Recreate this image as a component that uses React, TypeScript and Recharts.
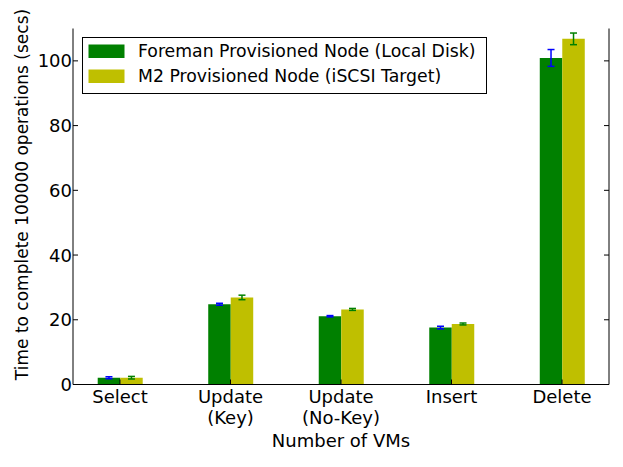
import { BarChart, Bar, XAxis, YAxis, ErrorBar, Legend } from 'recharts';

const categories = ['Select', 'Update\n(Key)', 'Update\n(No-Key)', 'Insert', 'Delete'];
const foremanTimes = [2.1, 24.8, 21.1, 17.6, 100.9];
const foremanErrors = [0.3, 0.3, 0.2, 0.4, 2.6];
const m2Times = [2.1, 26.9, 23.2, 18.7, 106.8];
const m2Errors = [0.4, 0.7, 0.3, 0.3, 1.8];
const yTicks = [0, 20, 40, 60, 80, 100];
const xTicks = [0, 1, 2, 3, 4];

const data = categories.map((name, i) => ({
  x: i,
  name,
  foreman: foremanTimes[i],
  foremanErr: foremanErrors[i],
  m2: m2Times[i],
  m2Err: m2Errors[i],
}));

const FONT = '"DejaVu Sans", Verdana, sans-serif';
const FS = 18;

function LeftTick({ x, y, payload }: any) {
  return (
    <g>
      <line x1={x + 1} x2={x + 6} y1={y} y2={y} stroke="#000" />
      <text x={x} y={y} dy="0.36em" textAnchor="end" fontSize={FS} fontFamily={FONT} fill="#000">
        {payload.value}
      </text>
    </g>
  );
}

function RightTick({ x, y }: any) {
  return <line x1={x} x2={x - 5} y1={y} y2={y} stroke="#000" />;
}

function TopTick({ x, y }: any) {
  return <line x1={x} x2={x} y1={y} y2={y + 5} stroke="#000" />;
}

function BottomTick({ x, y, payload }: any) {
  const lines = String(categories[payload.value] ?? '').split('\n');
  return (
    <g>
      <line x1={x} x2={x} y1={y - 6} y2={y - 11} stroke="#000" />
      <text x={x} y={y} textAnchor="middle" fontSize={FS} fontFamily={FONT} fill="#000">
        {lines.map((l, i) => (
          <tspan key={i} x={x} dy={i === 0 ? 12.5 : 21}>
            {l}
          </tspan>
        ))}
      </text>
    </g>
  );
}

function YLabel({ viewBox }: any) {
  const cx = viewBox.x + 28;
  const cy = viewBox.y + viewBox.height / 2 - 12;
  return (
    <text
      x={cx}
      y={cy}
      transform={`rotate(-90 ${cx} ${cy})`}
      textAnchor="middle"
      fontSize={17}
      fontFamily={FONT}
      fill="#000"
    >
      Time to complete 100000 operations (secs)
    </text>
  );
}

function LegendBox({ payload }: any) {
  return (
    <svg width={405} height={57} style={{ display: 'block' }}>
      <rect x={0.5} y={0.5} width={404} height={56} fill="#fff" stroke="#000" />
      {(payload || []).map((p: any, i: number) => (
        <g key={i}>
          <rect x={6.5} y={7.5 + i * 25} width={36} height={13.5} fill={p.color} />
          <text x={56} y={20 + i * 25} fontSize={17.3} fontFamily={FONT} fill="#000">
            {p.value}
          </text>
        </g>
      ))}
    </svg>
  );
}

export default function App() {
  return (
    <div style={{ position: 'absolute', left: 0, top: 0, background: '#fff' }}>
      <BarChart
        width={623}
        height={467}
        data={data}
        margin={{ top: 28.5, right: 0, bottom: 0, left: 0 }}
        barGap={0}
      >
        <XAxis
          xAxisId="b"
          dataKey="x"
          type="number"
          domain={[-0.425, 4.425]}
          ticks={xTicks}
          allowDataOverflow
          height={82.5}
          tickSize={0}
          tickMargin={6}
          tickLine={false}
          axisLine={{ stroke: '#000' }}
          tick={<BottomTick />}
          interval={0}
          label={{ value: 'Number of VMs', position: 'insideBottom', offset: 20.5, fontSize: FS, fontFamily: FONT, fill: '#000' }}
        />
        <XAxis
          xAxisId="t"
          orientation="top"
          dataKey="x"
          type="number"
          domain={[-0.425, 4.425]}
          ticks={xTicks}
          allowDataOverflow
          height={0}
          tickSize={0}
          tickMargin={0}
          tickLine={false}
          axisLine={{ stroke: '#000' }}
          tick={<TopTick />}
          interval={0}
        />
        <YAxis
          yAxisId="l"
          domain={[0, 110]}
          ticks={yTicks}
          allowDataOverflow
          width={73}
          tickSize={0}
          tickMargin={1}
          tickLine={false}
          axisLine={{ stroke: '#000' }}
          tick={<LeftTick />}
          interval={0}
          label={<YLabel />}
        />
        <YAxis
          yAxisId="r"
          orientation="right"
          domain={[0, 110]}
          ticks={yTicks}
          allowDataOverflow
          width={14}
          tickSize={0}
          tickMargin={0}
          tickLine={false}
          axisLine={{ stroke: '#000' }}
          tick={<RightTick />}
          interval={0}
        />
        <Legend
          layout="vertical"
          align="center"
          verticalAlign="middle"
          content={<LegendBox />}
          wrapperStyle={{ left: 82, top: 37, width: 405, height: 57 }}
        />
        <Bar
          xAxisId="b"
          yAxisId="l"
          dataKey="foreman"
          name="Foreman Provisioned Node (Local Disk)"
          fill="#008000"
          barSize={22.5}
          isAnimationActive={false}
        >
          <ErrorBar dataKey="foremanErr" width={3.5} stroke="#0000ff" strokeWidth={1.5} direction="y" />
        </Bar>
        <Bar
          xAxisId="b"
          yAxisId="l"
          dataKey="m2"
          name="M2 Provisioned Node (iSCSI Target)"
          fill="#bfbf00"
          barSize={22.5}
          isAnimationActive={false}
        >
          <ErrorBar dataKey="m2Err" width={3.5} stroke="#008000" strokeWidth={1.5} direction="y" />
        </Bar>
      </BarChart>
    </div>
  );
}
